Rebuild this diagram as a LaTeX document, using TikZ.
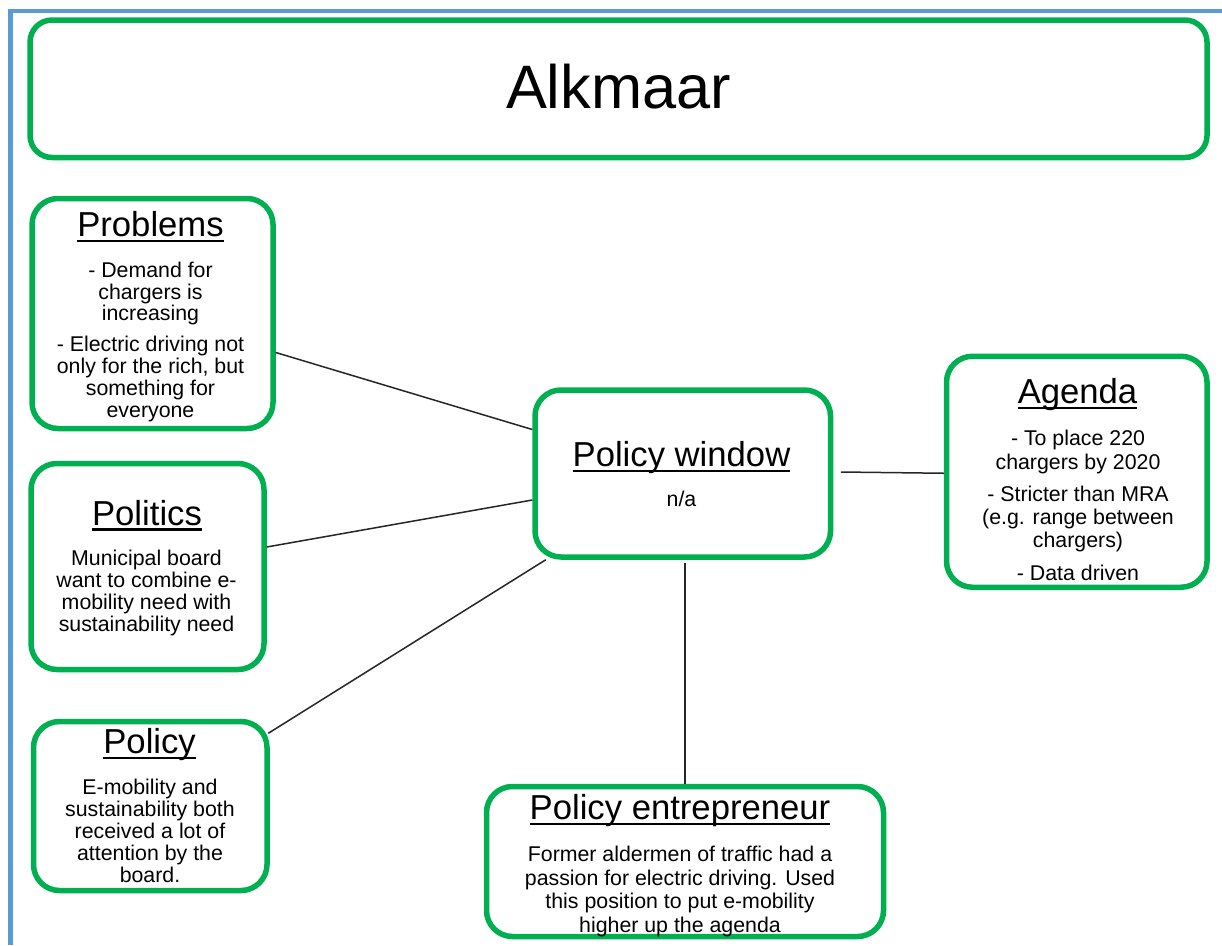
\documentclass[tikz,border=0pt]{standalone}
\usepackage{fontspec}
\setmainfont{Liberation Sans}
\definecolor{grn}{HTML}{00B050}
\definecolor{blu}{HTML}{5B9BD5}
\newcommand\hd[1]{\setbox0=\hbox{#1}\rlap{\rule[-5.5pt]{\wd0}{2.2pt}}\box0}
\newcommand\hfont{\fontsize{34.67}{40}\selectfont}
\newcommand\tfont{\fontsize{61.33}{70}\selectfont}
\newcommand\btext[3]{\vtop{\hsize=#1\parindent=0pt\parskip=0pt\fontsize{21.33}{#2}\selectfont\centering #3\par}}
\newcommand\pg{\par\vskip 9pt}
\tikzset{
  box/.style={draw=grn, line width=5.5pt, rounded corners=26pt, inner sep=0pt, fill=white},
  head/.style={anchor=base, inner sep=0pt, font=\hfont},
  body/.style={anchor=base, inner sep=0pt},
  conn/.style={line width=1.5pt, draw=black!85}
}
\begin{document}
\begin{tikzpicture}[x=1pt,y=-1pt]
\useasboundingbox (0,0) rectangle (1222,945);
\fill[white] (0,0) rectangle (1222,945);
% frame
\draw[blu, line width=4.5pt] (10.3,945) -- (10.3,11) -- (1222,11);
% boxes
\node[box, rounded corners=22pt, minimum width=1177pt, minimum height=137.5pt] (title) at (618.5,88.75) {};
\node[box, minimum width=241pt, minimum height=230pt] (prob) at (152.5,313.5) {};
\node[box, minimum width=233pt, minimum height=206pt] (poli) at (147.5,566.5) {};
\node[box, minimum width=233.5pt, minimum height=169pt] (pol) at (150.25,806) {};
\node[box, minimum width=295.5pt, minimum height=167pt] (pw) at (682.75,473.5) {};
\node[box, minimum width=260.5pt, minimum height=231pt] (ag) at (1076.75,471.75) {};
\node[box, minimum width=397pt, minimum height=150pt] (ent) at (685,861.5) {};
% texts
\node[anchor=base, inner sep=0pt, font=\tfont] (titletext) at (618.5,108) {Alkmaar};
\node[head] (probh) at (150.5,236.7) {\hd{Problems}};
\node[body] (probb) at (150.5,277.3) {\btext{230pt}{21.8pt}{- Demand for\\chargers is\\increasing\pg - Electric driving not\\only for the rich, but\\something for\\everyone}};
\node[head] (polih) at (147,525) {\hd{Politics}};
\node[body] (polib) at (146.5,565) {\btext{230pt}{22.2pt}{Municipal board\\want to combine e-\\mobility need with\\sustainability need}};
\node[head] (polh) at (149.6,753.3) {\hd{Policy}};
\node[body] (polb) at (150,794) {\btext{230pt}{22pt}{E-mobility and\\sustainability both\\received a lot of\\attention by the\\board.}};
\node[head] (pwh) at (681.5,466.7) {\hd{Policy window}};
\node[body] (pwb) at (681.5,506.7) {\btext{280pt}{23pt}{n/a}};
\node[head] (agh) at (1077.5,403.3) {\hd{Agenda}};
\node[body] (agb) at (1078,445.7) {\btext{255pt}{23.3pt}{- To place 220\\chargers by 2020\pg - Stricter than MRA\\(e.g. range between\\chargers)\pg - Data driven}};
\node[head] (enth) at (680,819.3) {\hd{Policy entrepreneur}};
\node[body] (entb) at (680,861.7) {\btext{390pt}{23.5pt}{Former aldermen of traffic had a\\passion for electric driving. Used\\this position to put e-mobility\\higher up the agenda}};
% connectors
\draw[conn] ([yshift=-39pt]prob.east) -- ([yshift=44pt]pw.west);
\draw[conn] ([yshift=19.5pt]poli.east) -- ([yshift=-26.5pt]pw.west);
\draw[conn] ([xshift=-1.5pt,yshift=72.7pt]pol.east) -- ([xshift=-137pt]pw.south);
\draw[conn] ([xshift=7.5pt,yshift=1.5pt]pw.east) -- ([yshift=-1.5pt]ag.west);
\draw[conn] ([yshift=-3pt]ent.north |- pw.south) -- (ent.north);
\end{tikzpicture}
\end{document}
